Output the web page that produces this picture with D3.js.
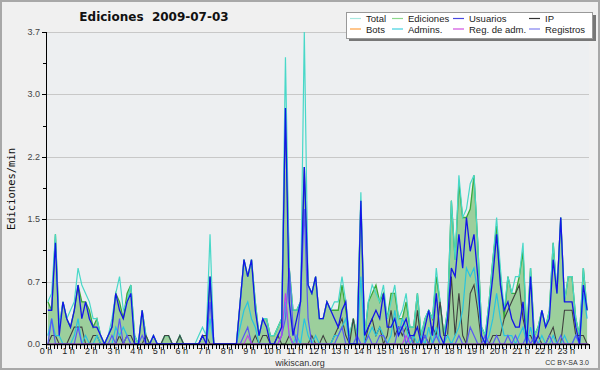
<!DOCTYPE html>
<html>
<head>
<meta charset="utf-8">
<script src="https://cdn.jsdelivr.net/npm/d3@7"></script>
<style>
  body { margin: 0; background: #f0f0f0; }
  svg { display: block; font-family: "Liberation Sans", Arial, sans-serif; }
</style>
</head>
<body>
<div id="chart"></div>
<script>
// 10-minute buckets, 144 per day, edits per minute
var total = [
  0.5,0.6,1.3,0.2,0.5,0.3,0.4,0.5,0.9,0.7,0.6,0.5,
  0.3,0.3,0.1,0.0,0.1,0.3,0.6,0.8,0.4,0.5,0.7,0.1,
  0.0,0.4,0.1,0.0,0.1,0.0,0.0,0.1,0.1,0.0,0.0,0.1,
  0.0,0.0,0.0,0.0,0.1,0.2,0.1,1.3,0.0,0.0,0.0,0.0,
  0.0,0.0,0.0,0.5,1.0,0.8,1.0,0.5,0.1,0.3,0.3,0.1,
  0.1,0.2,0.3,3.4,0.9,0.4,0.4,0.5,3.7,0.7,0.6,0.8,
  0.3,0.3,0.5,0.4,0.5,0.5,0.8,0.5,0.1,0.3,0.1,1.8,
  0.1,0.5,0.7,0.6,0.5,0.7,0.3,0.5,0.7,0.3,0.4,0.6,
  0.2,0.2,0.6,0.1,0.3,0.4,0.3,0.9,0.5,0.1,0.4,1.7,
  1.0,2.0,1.5,1.6,1.9,2.0,1.2,0.2,0.1,0.5,1.0,1.5,
  0.9,0.4,0.8,0.6,0.8,0.8,1.2,0.1,0.9,0.1,0.2,0.4,
  0.2,0.4,1.2,0.6,1.5,0.5,0.8,0.8,0.3,0.1,0.9,0.4
];
var ediciones = [
  0.5,0.4,1.3,0.2,0.5,0.3,0.2,0.4,0.7,0.5,0.5,0.4,
  0.2,0.3,0.1,0.0,0.1,0.2,0.6,0.5,0.3,0.6,0.7,0.1,
  0.0,0.4,0.1,0.0,0.1,0.0,0.0,0.1,0.1,0.0,0.0,0.1,
  0.0,0.0,0.0,0.0,0.0,0.1,0.1,0.8,0.0,0.0,0.0,0.0,
  0.0,0.0,0.0,0.5,1.0,0.8,1.0,0.5,0.1,0.3,0.3,0.1,
  0.1,0.2,0.3,2.8,0.9,0.4,0.4,0.5,2.1,0.7,0.6,0.8,
  0.3,0.3,0.5,0.4,0.4,0.4,0.7,0.4,0.1,0.3,0.1,1.7,
  0.1,0.5,0.6,0.7,0.5,0.6,0.3,0.6,0.6,0.3,0.3,0.5,
  0.2,0.2,0.6,0.1,0.3,0.4,0.3,0.8,0.5,0.1,0.4,1.7,
  1.0,1.9,1.5,1.5,1.6,2.0,1.2,0.2,0.1,0.5,1.0,1.4,
  0.8,0.3,0.8,0.6,0.6,0.8,1.1,0.1,0.9,0.1,0.2,0.4,
  0.2,0.4,1.2,0.6,1.5,0.5,0.8,0.8,0.3,0.1,0.9,0.4
];
var usuarios = [
  0.4,0.4,1.2,0.1,0.5,0.3,0.2,0.4,0.7,0.3,0.5,0.3,
  0.2,0.2,0.1,0.0,0.1,0.2,0.6,0.4,0.3,0.5,0.6,0.0,
  0.0,0.4,0.0,0.0,0.1,0.0,0.0,0.0,0.0,0.0,0.0,0.0,
  0.0,0.0,0.0,0.0,0.0,0.1,0.0,0.8,0.0,0.0,0.0,0.0,
  0.0,0.0,0.0,0.5,1.0,0.8,1.0,0.4,0.1,0.3,0.2,0.0,
  0.0,0.1,0.2,2.8,0.5,0.1,0.3,0.5,2.1,0.7,0.6,0.8,
  0.3,0.3,0.5,0.4,0.3,0.2,0.4,0.5,0.0,0.0,0.0,1.7,
  0.1,0.2,0.3,0.4,0.3,0.6,0.2,0.2,0.3,0.1,0.2,0.3,
  0.1,0.1,0.2,0.0,0.2,0.4,0.1,0.6,0.1,0.0,0.3,0.9,
  0.8,1.3,0.9,1.5,1.1,1.3,0.8,0.1,0.0,0.4,0.8,1.3,
  0.7,0.4,0.5,0.3,0.2,0.2,0.5,0.0,0.8,0.0,0.1,0.4,
  0.2,0.3,1.0,0.6,1.5,0.5,0.5,0.5,0.2,0.0,0.7,0.4
];
var ip = [
  0.0,0.1,0.1,0.0,0.0,0.0,0.1,0.2,0.2,0.2,0.0,0.0,
  0.1,0.1,0.0,0.0,0.0,0.0,0.0,0.1,0.0,0.1,0.1,0.0,
  0.0,0.0,0.1,0.0,0.0,0.0,0.0,0.1,0.1,0.0,0.0,0.1,
  0.0,0.0,0.0,0.0,0.0,0.1,0.1,0.0,0.0,0.0,0.0,0.0,
  0.0,0.0,0.0,0.0,0.0,0.0,0.0,0.1,0.0,0.1,0.1,0.0,
  0.0,0.1,0.0,0.0,0.1,0.0,0.0,0.0,0.0,0.0,0.1,0.0,
  0.0,0.1,0.0,0.0,0.1,0.2,0.3,0.1,0.0,0.3,0.0,0.0,
  0.0,0.2,0.3,0.1,0.2,0.0,0.1,0.4,0.1,0.2,0.1,0.2,
  0.1,0.0,0.4,0.0,0.1,0.0,0.2,0.1,0.5,0.1,0.1,0.8,
  0.1,0.6,0.1,0.0,0.6,0.7,0.4,0.0,0.0,0.0,0.1,0.1,
  0.1,0.3,0.4,0.5,0.6,0.7,0.3,0.1,0.1,0.0,0.1,0.0,
  0.0,0.1,0.2,0.0,0.0,0.4,0.4,0.4,0.1,0.1,0.1,0.0
];
var admins = [
  0.1,0.3,0.1,0.1,0.0,0.0,0.0,0.1,0.3,0.0,0.1,0.0,
  0.0,0.1,0.0,0.0,0.0,0.0,0.2,0.1,0.2,0.1,0.0,0.0,
  0.0,0.0,0.0,0.0,0.0,0.0,0.0,0.0,0.0,0.0,0.0,0.0,
  0.0,0.0,0.0,0.0,0.0,0.0,0.0,0.3,0.0,0.0,0.0,0.0,
  0.0,0.0,0.0,0.2,0.4,0.5,0.3,0.2,0.0,0.0,0.0,0.0,
  0.0,0.0,0.1,0.5,0.1,0.0,0.1,0.0,0.3,0.1,0.0,0.1,
  0.0,0.0,0.0,0.0,0.1,0.1,0.2,0.3,0.0,0.0,0.0,0.8,
  0.0,0.1,0.2,0.1,0.2,0.1,0.0,0.1,0.4,0.1,0.3,0.2,
  0.0,0.1,0.0,0.1,0.0,0.2,0.0,0.2,0.0,0.0,0.1,0.0,
  0.1,0.2,0.4,0.9,0.8,0.9,0.6,0.1,0.0,0.1,0.3,0.6,
  0.3,0.1,0.1,0.1,0.0,0.1,0.2,0.0,0.2,0.0,0.0,0.1,
  0.0,0.0,0.1,0.0,0.0,0.1,0.0,0.0,0.1,0.0,0.6,0.3
];
var registros = [
  0.0,0.3,0.0,0.0,0.0,0.0,0.0,0.0,0.2,0.0,0.0,0.0,
  0.0,0.0,0.0,0.0,0.0,0.1,0.0,0.3,0.0,0.1,0.0,0.0,
  0.0,0.1,0.0,0.0,0.0,0.0,0.0,0.0,0.0,0.0,0.0,0.0,
  0.0,0.0,0.0,0.0,0.0,0.0,0.0,0.5,0.0,0.0,0.0,0.0,
  0.0,0.0,0.0,0.0,0.1,0.2,0.0,0.0,0.0,0.0,0.0,0.0,
  0.0,0.0,0.1,0.3,0.9,0.2,0.0,0.5,1.6,0.3,0.0,0.0,
  0.0,0.0,0.0,0.0,0.0,0.1,0.2,0.0,0.0,0.0,0.1,0.0,
  0.0,0.1,0.0,0.0,0.1,0.1,0.0,0.0,0.0,0.2,0.2,0.0,
  0.1,0.0,0.0,0.0,0.1,0.0,0.0,0.1,0.0,0.0,0.0,0.0,
  0.0,0.1,0.0,0.0,0.2,0.1,0.0,0.0,0.1,0.0,0.0,0.1,
  0.0,0.0,0.1,0.0,0.1,0.0,0.0,0.1,0.0,0.1,0.0,0.0,
  0.0,0.1,0.0,0.0,0.1,0.0,0.0,0.0,0.1,0.0,0.0,0.0
];
var regAdm = [
  0,0,0,0,0,0,0,0,0,0,0,0,
  0,0,0,0,0,0,0,0,0,0,0,0,
  0,0,0,0,0,0,0,0,0,0,0,0,
  0,0,0,0,0,0,0,0,0,0,0,0,
  0,0,0,0,0,0.1,0,0,0,0,0,0,
  0,0,0.1,0.6,0.1,0,0,0,0,0,0,0,
  0,0,0,0,0,0,0,0,0,0,0,0,
  0,0,0,0,0,0,0,0,0,0,0,0.1,
  0,0,0,0,0,0,0,0,0,0,0,0,
  0,0,0,0,0,0,0,0,0,0,0,0,
  0,0,0,0,0,0,0,0,0,0,0,0,
  0,0,0,0,0,0,0,0,0,0,0,0
];
var hours = d3.range(24);
var yMax = 3.7;

var legendRows = [
  [{name: "Total", c: "#a8e8e0"}, {name: "Ediciones", c: "#8cd88c"}, {name: "Usuarios", c: "#4848e0"}, {name: "IP", c: "#333333"}],
  [{name: "Bots", c: "#ffa040"}, {name: "Admins.", c: "#40d0e0"}, {name: "Reg. de adm.", c: "#d050e0"}, {name: "Registros", c: "#8080f0"}]
];

var W = 600, H = 370;
var svg = d3.select("#chart").append("svg").attr("width", W).attr("height", H);

svg.append("rect").attr("x", 1).attr("y", 1).attr("width", W - 2).attr("height", H - 2)
  .attr("fill", "#f0f0f0").attr("stroke", "#a8a8a8").attr("stroke-width", 2);

var x = d3.scaleLinear().domain([0, 144]).range([46, 589]);
var y = d3.scaleLinear().domain([0, yMax]).range([344, 32]);

svg.append("rect").attr("x", 46).attr("y", 32).attr("width", 543).attr("height", 312).attr("fill", "#edeff1");

var majors = d3.range(6).map(function (k) { return k * yMax / 5; });
var minors = d3.range(5).map(function (k) { return (k + 0.5) * yMax / 5; });

// grid
svg.append("g").selectAll("line").data(majors.slice(1)).enter().append("line")
  .attr("x1", 46).attr("x2", 589)
  .attr("y1", function (d) { return Math.round(y(d)) + 0.5; })
  .attr("y2", function (d) { return Math.round(y(d)) + 0.5; })
  .attr("stroke", "#c8c8c8").attr("stroke-width", 1);

function xi(d, i) { return x(i + 0.5); }

// Ediciones area
svg.append("path").datum(ediciones)
  .attr("fill", "#9ccf9c")
  .attr("d", d3.area().x(xi).y0(y(0)).y1(function (d) { return y(d); }));

var series = [
  {data: ediciones, c: "#3aaa3a", w: 1.3},
  {data: total, c: "#48d8c8", w: 1.2},
  {data: ip, c: "#404040", w: 1.1},
  {data: admins, c: "#28c4e0", w: 1.2},
  {data: registros, c: "#5858f4", w: 1.2},
  {data: regAdm, c: "#c040e8", w: 1.1},
  {data: usuarios, c: "#1414e8", w: 1.3}
];
var line = d3.line().x(xi).y(function (d) { return y(d); });
svg.append("g").selectAll("path").data(series).enter().append("path")
  .attr("fill", "none")
  .attr("stroke", function (s) { return s.c; })
  .attr("stroke-width", function (s) { return s.w; })
  .attr("d", function (s) { return line(s.data); });

// y axis
var yAxis = svg.append("g").attr("transform", "translate(46,0)");
yAxis.append("line").attr("x1", 0.5).attr("x2", 0.5).attr("y1", 32).attr("y2", 345).attr("stroke", "#000");
yAxis.selectAll(".maj").data(majors).enter().append("line")
  .attr("x1", -4).attr("x2", 0)
  .attr("y1", function (d) { return Math.round(y(d)) + 0.5; })
  .attr("y2", function (d) { return Math.round(y(d)) + 0.5; })
  .attr("stroke", "#000");
yAxis.selectAll(".min").data(minors).enter().append("line")
  .attr("x1", -3).attr("x2", 0)
  .attr("y1", function (d) { return Math.round(y(d)) + 0.5; })
  .attr("y2", function (d) { return Math.round(y(d)) + 0.5; })
  .attr("stroke", "#000");
yAxis.selectAll("text").data(majors).enter().append("text")
  .attr("x", -6).attr("y", function (d) { return y(d) + 3; })
  .attr("text-anchor", "end").attr("font-size", 9).attr("fill", "#444")
  .text(function (d) { return d3.format(".1f")(d); });

// x axis
var xAxis = svg.append("g");
xAxis.append("line").attr("x1", 46).attr("x2", 589).attr("y1", 344.5).attr("y2", 344.5).attr("stroke", "#000").attr("stroke-width", 1.5);
xAxis.selectAll(".tk").data(d3.range(145)).enter().append("line")
  .attr("x1", function (d) { return Math.round(x(d)) + 0.5; })
  .attr("x2", function (d) { return Math.round(x(d)) + 0.5; })
  .attr("y1", 344).attr("y2", 349)
  .attr("stroke", "#000");
xAxis.selectAll("text").data(hours).enter().append("text")
  .attr("x", function (h) { return x(h * 6); }).attr("y", 354)
  .attr("text-anchor", "middle").attr("font-size", 9).attr("fill", "#222")
  .text(function (h) { return h + " h"; });

// titles
svg.append("text").attr("x", 154).attr("y", 21).attr("text-anchor", "middle")
  .attr("font-family", "DejaVu Sans, sans-serif")
  .attr("font-size", 12).attr("font-weight", "bold").attr("fill", "#111")
  .attr("xml:space", "preserve").text("Ediciones  2009-07-03");
svg.append("text").attr("transform", "translate(15,189) rotate(-90)")
  .attr("text-anchor", "middle").attr("font-size", 10.5).attr("fill", "#111")
  .attr("font-family", "DejaVu Sans Mono, monospace")
  .text("Ediciones/min");
svg.append("text").attr("x", 300).attr("y", 366).attr("text-anchor", "middle")
  .attr("font-size", 9).attr("fill", "#333").text("wikiscan.org");
svg.append("text").attr("x", 589).attr("y", 365).attr("text-anchor", "end")
  .attr("font-size", 7).attr("fill", "#333").text("CC BY-SA 3.0");

// legend
var lg = svg.append("g");
lg.append("rect").attr("x", 349).attr("y", 15).attr("width", 247).attr("height", 26).attr("fill", "#777");
lg.append("rect").attr("x", 346.5).attr("y", 12.5).attr("width", 246).attr("height", 26)
  .attr("fill", "#fff").attr("stroke", "#999");
var colX = [350, 392, 453, 529];
legendRows.forEach(function (row, r) {
  row.forEach(function (it, c) {
    var yy = 18.5 + r * 10.5;
    lg.append("line").attr("x1", colX[c]).attr("x2", colX[c] + 11)
      .attr("y1", yy).attr("y2", yy).attr("stroke", it.c).attr("stroke-width", 1.2);
    lg.append("text").attr("x", colX[c] + 16).attr("y", yy + 3.5)
      .attr("font-size", 9.5).attr("fill", "#222").text(it.name);
  });
});
</script>
</body>
</html>
